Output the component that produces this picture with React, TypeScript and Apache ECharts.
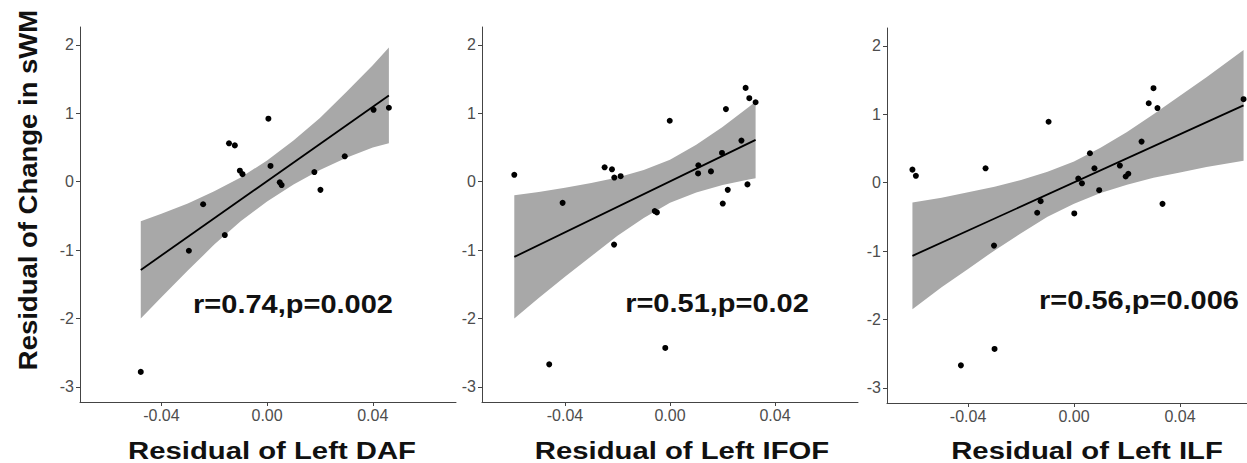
import React, { useEffect, useRef } from "react";
import * as echarts from "echarts";

// ---------- data ----------
const yTickValues = [-3, -2, -1, 0, 1, 2];
const xTickValues = [-0.04, 0, 0.04];

// Panel 1: DAF
const dafX = [-0.0478, -0.0296, -0.0242, -0.016, -0.0144, -0.0122, -0.0103, -0.0093, 0.0005, 0.0013, 0.0048, 0.0055, 0.0179, 0.0202, 0.0294, 0.0403, 0.0461];
const dafY = [-2.78, -1.01, -0.33, -0.78, 0.56, 0.53, 0.16, 0.11, 0.92, 0.23, -0.01, -0.05, 0.14, -0.12, 0.37, 1.05, 1.08];
const dafFitX = [-0.0478, 0.0461];
const dafFitY = [-1.29, 1.26];
const dafBandX = [-0.0478, -0.04, -0.03, -0.02, -0.01, 0, 0.01, 0.02, 0.03, 0.04, 0.0461];
const dafBandUpper = [-0.58, -0.47, -0.32, -0.14, 0.06, 0.31, 0.6, 0.93, 1.31, 1.7, 1.96];
const dafBandLower = [-2.0, -1.69, -1.3, -0.92, -0.58, -0.29, -0.04, 0.17, 0.35, 0.5, 0.56];

// Panel 2: IFOF
const ifofX = [-0.0593, -0.046, -0.0409, -0.0249, -0.0221, -0.0213, -0.0212, -0.0188, -0.0058, -0.005, -0.0018, -0.0001, 0.0108, 0.0107, 0.0156, 0.0198, 0.0201, 0.0213, 0.022, 0.0272, 0.0288, 0.0295, 0.0302, 0.0326];
const ifofY = [0.1, -2.67, -0.31, 0.21, 0.18, -0.92, 0.06, 0.08, -0.43, -0.45, -2.43, 0.89, 0.24, 0.12, 0.15, 0.42, -0.32, 1.06, -0.12, 0.6, 1.37, -0.04, 1.22, 1.16];
const ifofFitX = [-0.0593, 0.0326];
const ifofFitY = [-1.1, 0.61];
const ifofBandX = [-0.0593, -0.05, -0.04, -0.03, -0.02, -0.01, 0, 0.01, 0.02, 0.03, 0.0326];
const ifofBandUpper = [-0.2, -0.15, -0.09, -0.02, 0.06, 0.17, 0.32, 0.54, 0.8, 1.09, 1.17];
const ifofBandLower = [-2.0, -1.7, -1.39, -1.09, -0.79, -0.53, -0.31, -0.16, -0.05, 0.03, 0.05];

// Panel 3: ILF
const ilfX = [-0.061, -0.0597, -0.0334, -0.0302, -0.0427, -0.03, -0.0139, -0.0126, -0.0096, 0.0001, 0.0016, 0.003, 0.006, 0.0077, 0.0095, 0.0173, 0.0195, 0.0205, 0.0255, 0.0282, 0.03, 0.0315, 0.0334, 0.064];
const ilfY = [0.19, 0.1, 0.21, -0.92, -2.67, -2.43, -0.44, -0.27, 0.89, -0.45, 0.06, -0.01, 0.43, 0.21, -0.11, 0.25, 0.09, 0.13, 0.6, 1.16, 1.38, 1.09, -0.31, 1.22];
const ilfFitX = [-0.061, 0.064];
const ilfFitY = [-1.07, 1.13];
const ilfBandX = [-0.061, -0.05, -0.04, -0.03, -0.02, -0.01, 0, 0.01, 0.02, 0.03, 0.04, 0.05, 0.064];
const ilfBandUpper = [-0.29, -0.22, -0.14, -0.06, 0.04, 0.16, 0.31, 0.51, 0.74, 1.0, 1.27, 1.54, 1.94];
const ilfBandLower = [-1.85, -1.53, -1.26, -0.99, -0.74, -0.5, -0.31, -0.15, -0.03, 0.07, 0.15, 0.23, 0.32];

const xTitles = ["Residual of Left DAF", "Residual of Left IFOF", "Residual of Left ILF"];
const yTitle = "Residual of Change in sWM";
const statLabels = ["r=0.74,p=0.002", "r=0.51,p=0.02", "r=0.56,p=0.006"];

// ---------- layout ----------
const panels = [
  { x: dafX, y: dafY, fx: dafFitX, fy: dafFitY, bx: dafBandX, bu: dafBandUpper, bl: dafBandLower,
    grid: { left: 80, top: 27, width: 376, height: 375 }, xmin: -0.0708, xmax: 0.0715,
    titlePos: [272, 451], statPos: [293, 304] },
  { x: ifofX, y: ifofY, fx: ifofFitX, fy: ifofFitY, bx: ifofBandX, bu: ifofBandUpper, bl: ifofBandLower,
    grid: { left: 482, top: 27, width: 376, height: 375 }, xmin: -0.0716, xmax: 0.0716,
    titlePos: [682, 451], statPos: [717, 303] },
  { x: ilfX, y: ilfY, fx: ilfFitX, fy: ilfFitY, bx: ilfBandX, bu: ilfBandUpper, bl: ilfBandLower,
    grid: { left: 887, top: 28, width: 360, height: 375 }, xmin: -0.0706, xmax: 0.0653,
    titlePos: [1087, 451], statPos: [1139, 300] },
];

const FONT = "'Liberation Sans', Arial, Helvetica, sans-serif";
const AXIS_COLOR = "#444";
const LABEL_COLOR = "#4d4d4d";

export default function App() {
  const ref = useRef<HTMLDivElement>(null);

  useEffect(() => {
    if (!ref.current) return;
    const chart = echarts.init(ref.current, null, { renderer: "svg" });

    const grids = panels.map((p) => ({ ...p.grid, containLabel: false }));
    const xAxes = panels.map((p, i) => ({
      type: "value",
      gridIndex: i,
      min: p.xmin,
      max: p.xmax,
      splitLine: { show: false },
      axisLine: { show: true, onZero: false, lineStyle: { color: AXIS_COLOR, width: 1 } },
      axisTick: { show: true, length: 4, customValues: xTickValues, lineStyle: { color: AXIS_COLOR } },
      axisLabel: {
        customValues: xTickValues,
        formatter: (v: number) => v.toFixed(2),
        color: LABEL_COLOR,
        fontSize: 16,
        fontFamily: FONT,
        margin: 5,
      },
    }));
    const yAxes = panels.map((p, i) => ({
      type: "value",
      gridIndex: i,
      min: -3.22,
      max: 2.26,
      splitLine: { show: false },
      axisLine: { show: true, onZero: false, lineStyle: { color: AXIS_COLOR, width: 1 } },
      axisTick: { show: true, length: 4, customValues: yTickValues, lineStyle: { color: AXIS_COLOR } },
      axisLabel: {
        customValues: yTickValues,
        color: LABEL_COLOR,
        fontSize: 16,
        fontFamily: FONT,
        margin: 6,
      },
    }));

    const series: any[] = [];
    panels.forEach((p, i) => {
      // confidence band
      series.push({
        type: "custom",
        xAxisIndex: i,
        yAxisIndex: i,
        silent: true,
        data: [[p.bx[0], p.bu[0]]],
        renderItem: (_params: any, api: any) => {
          const pts: number[][] = [];
          for (let k = 0; k < p.bx.length; k++) pts.push(api.coord([p.bx[k], p.bu[k]]));
          for (let k = p.bx.length - 1; k >= 0; k--) pts.push(api.coord([p.bx[k], p.bl[k]]));
          return {
            type: "polygon",
            shape: { points: pts },
            style: { fill: "#a8a8a8", stroke: "none" },
          };
        },
        z: 1,
      });
      // regression line
      series.push({
        type: "line",
        xAxisIndex: i,
        yAxisIndex: i,
        data: p.fx.map((v, k) => [v, p.fy[k]]),
        showSymbol: false,
        symbol: "none",
        lineStyle: { color: "#000", width: 1.8 },
        silent: true,
        z: 2,
      });
      // points
      series.push({
        type: "scatter",
        xAxisIndex: i,
        yAxisIndex: i,
        data: p.x.map((v, k) => [v, p.y[k]]),
        symbol: "circle",
        symbolSize: 6,
        itemStyle: { color: "#000", opacity: 1 },
        z: 3,
      });
    });

    const graphic: any[] = [];
    panels.forEach((p, i) => {
      graphic.push({
        type: "text",
        x: p.titlePos[0],
        y: p.titlePos[1],
        scaleX: 1.22,
        style: {
          text: xTitles[i],
          fontSize: 24,
          fontWeight: "bold",
          fontFamily: FONT,
          fill: "#111",
          textAlign: "center",
          textVerticalAlign: "middle",
        },
      });
      graphic.push({
        type: "text",
        x: p.statPos[0],
        y: p.statPos[1],
        scaleX: 1.16,
        style: {
          text: statLabels[i],
          fontSize: 25,
          fontWeight: "bold",
          fontFamily: FONT,
          fill: "#111",
          textAlign: "center",
          textVerticalAlign: "middle",
        },
        z: 10,
      });
    });
    graphic.push({
      type: "text",
      x: 28,
      y: 190,
      rotation: Math.PI / 2,
      scaleX: 1.1,
      style: {
        text: yTitle,
        fontSize: 25,
        fontWeight: "bold",
        fontFamily: FONT,
        fill: "#111",
        textAlign: "center",
        textVerticalAlign: "middle",
      },
    });

    chart.setOption({
      animation: false,
      backgroundColor: "#fff",
      grid: grids,
      xAxis: xAxes,
      yAxis: yAxes,
      series,
      graphic,
    });

    return () => chart.dispose();
  }, []);

  return (
    <div
      ref={ref}
      style={{ position: "fixed", left: 0, top: 0, width: 1247, height: 463, background: "#fff" }}
    />
  );
}
